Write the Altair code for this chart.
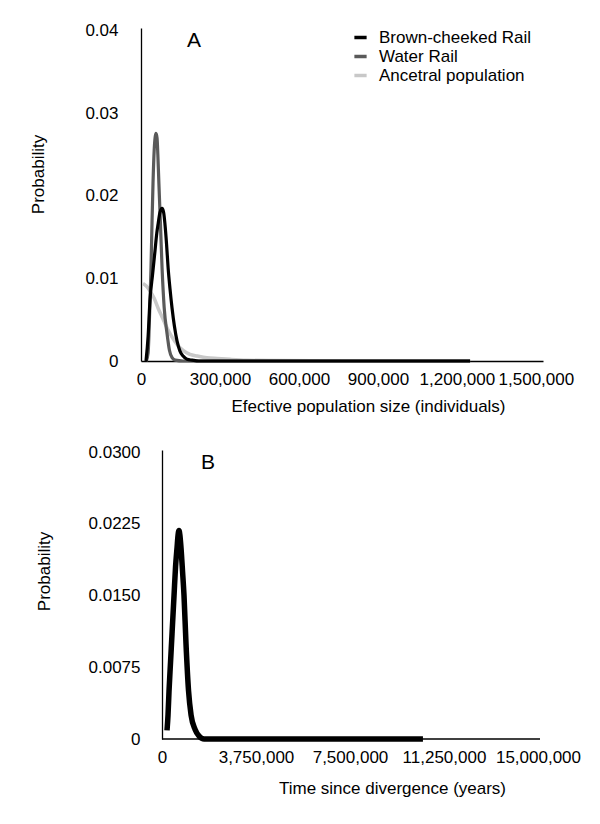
import altair as alt
import pandas as pd

FONT = "Liberation Sans"

# ---------------- Panel A data (effective population size) ----------------
series_names = ["Brown-cheeked Rail", "Water Rail", "Ancetral population"]
series_colors = ["#000000", "#5a5a5a", "#c8c8c8"]

brown_x = [19000, 27000, 34000, 44000, 53000, 60000, 65000, 72000, 80000, 86000,
           91000, 97000, 103000, 110000, 118000, 127000, 137000, 148000, 160000,
           175000, 194000, 220000, 400000, 800000, 1250000]
brown_y = [0, 0.0030, 0.0073, 0.0105, 0.0133, 0.0155, 0.0166, 0.0180, 0.0185, 0.0180,
           0.0166, 0.0142, 0.0113, 0.0088, 0.0064, 0.0042, 0.0024, 0.0012, 0.0006,
           0.0002, 0.0001, 0, 0, 0, 0]

water_x = [20000, 27000, 33000, 38000, 42000, 45600, 50000, 54000, 57000, 61000,
           64000, 68000, 74000, 80000, 88000, 99000, 108000, 118000, 130000, 160000,
           400000, 800000, 1250000]
water_y = [0, 0.0010, 0.0060, 0.0113, 0.0170, 0.0215, 0.0255, 0.0272, 0.0276, 0.0270,
           0.0250, 0.0215, 0.0165, 0.0113, 0.0065, 0.0033, 0.0013, 0.0004, 0.0001, 0,
           0, 0, 0]

anc_x = [7600, 20000, 34000, 50000, 65000, 82000, 99000, 118000, 137000, 160000,
         186000, 215000, 250000, 290000, 338000, 400000, 500000, 800000, 1250000]
anc_y = [0.0094, 0.0091, 0.0085, 0.0076, 0.0064, 0.0052, 0.0040, 0.0029, 0.0020, 0.0013,
         0.0008, 0.0006, 0.0004, 0.0003, 0.0002, 0.0001, 0.00005, 0, 0]

a_xticks = [0, 300000, 600000, 900000, 1200000, 1500000]
a_yticks = [0, 0.01, 0.02, 0.03, 0.04]

# ---------------- Panel B data (time since divergence) ----------------
div_x = [200000, 240000, 280000, 340000, 400000, 480000, 540000, 600000, 640000,
         678000, 715000, 758000, 820000, 878000, 957000, 1060000, 1160000, 1320000,
         1480000, 1680000, 3000000, 6000000, 10410000]
div_y = [0.0009, 0.0025, 0.0050, 0.0080, 0.0110, 0.0150, 0.0180, 0.0200, 0.0213,
         0.0218, 0.0213, 0.0200, 0.0175, 0.0150, 0.0100, 0.0050, 0.0025, 0.0010,
         0.0003, 0, 0, 0, 0]

b_xticks = [0, 3750000, 7500000, 11250000, 15000000]
b_yticks = [0, 0.0075, 0.015, 0.0225, 0.03]
b_axis_end = 15080000

# ---------------- build tables ----------------
rows = []
for name, xs, ys in [("Ancetral population", anc_x, anc_y),
                     ("Water Rail", water_x, water_y),
                     ("Brown-cheeked Rail", brown_x, brown_y)]:
    for xv, yv in zip(xs, ys):
        rows.append({"series": name, "size": xv, "prob": yv})
df_a = pd.DataFrame(rows)
df_b = pd.DataFrame({"time": div_x, "prob": div_y})

color = alt.Color(
    "series:N",
    scale=alt.Scale(domain=series_names, range=series_colors),
    legend=alt.Legend(
        title=None, orient="none", legendX=211, legendY=1,
        symbolType="stroke", symbolStrokeWidth=3.5, symbolSize=150,
        labelFontSize=17, labelFont=FONT, labelColor="#000",
        rowPadding=1, labelOffset=10, padding=0,
    ),
)

xa = alt.X(
    "size:Q",
    scale=alt.Scale(domain=[0, 1527000], nice=False, zero=False),
    axis=alt.Axis(
        values=a_xticks, format=",d", ticks=False, grid=False,
        labelPadding=10, labelOverlap=False, labelFlush=False, labelBound=False,
        title="Efective population size (individuals)",
        titleX=227, titleY=45, titleBaseline="middle", titleAlign="center",
    ),
)
ya = alt.Y(
    "prob:Q",
    scale=alt.Scale(domain=[0, 0.04036], nice=False),
    axis=alt.Axis(
        values=a_yticks, format=".2~f", ticks=False, grid=False,
        labelPadding=23, title="Probability",
        titleX=-103, titleY=146, titleBaseline="middle", titleAlign="center",
    ),
)

layers_a = []
for name, width in [("Ancetral population", 3.5), ("Water Rail", 3.2), ("Brown-cheeked Rail", 3.2)]:
    layers_a.append(
        alt.Chart(df_a).transform_filter(alt.datum.series == name)
        .mark_line(strokeWidth=width, interpolate="monotone")
        .encode(x=xa, y=ya, color=color)
    )
label_a = alt.Chart(pd.DataFrame({"panel": ["A"]})).mark_text(
    fontSize=21, font=FONT, color="#000", align="center", baseline="middle"
).encode(text="panel:N", x=alt.datum(201000), y=alt.datum(0.0388))

panel_a = alt.layer(*layers_a, label_a).properties(width=402, height=333)

# Panel B: the plot area starts at the same left edge as panel A, while the
# y axis is shifted right (negative offset) so that time 0 sits where it does
# in the reference.
b_px_per_unit = 376 / 15000000
b_shift_px = 21
scale_bx = alt.Scale(domain=[-b_shift_px / b_px_per_unit, b_axis_end], nice=False, zero=False)
axis_bx = alt.Axis(
    values=b_xticks, format=",d", ticks=False, grid=False, domain=False,
    labelPadding=10, labelOverlap=False, labelFlush=False, labelBound=False,
    titleX=230 + b_shift_px, titleY=49, titleBaseline="middle", titleAlign="center",
)
scale_by = alt.Scale(domain=[0, 0.03021], nice=False)
axis_by = alt.Axis(
    values=b_yticks, ticks=False, grid=False, offset=-b_shift_px,
    labelExpr="datum.value == 0 ? '0' : format(datum.value, '.4f')",
    labelPadding=22,
    titleX=-118, titleY=121, titleBaseline="middle", titleAlign="center",
)
b_xtitle = "Time since divergence (years)"
b_ytitle = "Probability"

base_b = alt.Chart(pd.DataFrame({"start": [0], "end": [b_axis_end], "zero": [0]})).mark_rule(
    color="#000", strokeWidth=1.3
).encode(
    x=alt.X("start:Q", scale=scale_bx, axis=axis_bx, title=b_xtitle),
    x2="end:Q",
    y=alt.Y("zero:Q", scale=scale_by, axis=axis_by, title=b_ytitle),
)
line_b = alt.Chart(df_b).mark_line(
    strokeWidth=5.5, color="#000", interpolate="monotone"
).encode(
    x=alt.X("time:Q", scale=scale_bx, axis=axis_bx, title=b_xtitle),
    y=alt.Y("prob:Q", scale=scale_by, axis=axis_by, title=b_ytitle),
)
label_b = alt.Chart(pd.DataFrame({"panel": ["B"]})).mark_text(
    fontSize=21, font=FONT, color="#000", align="center", baseline="middle"
).encode(text="panel:N", x=alt.datum(1835000), y=alt.datum(0.0289))

panel_b = alt.layer(base_b, line_b, label_b).properties(width=376 + b_shift_px + 2, height=289)

chart = alt.vconcat(panel_a, panel_b, spacing=29).properties(
    padding={"left": 21, "top": 13, "right": 5, "bottom": 5}
).configure_view(stroke=None).configure_axis(
    labelFont=FONT, titleFont=FONT, labelFontSize=17, titleFontSize=17,
    labelColor="#000", titleColor="#000", titleFontWeight="normal",
    domainColor="#000", domainWidth=1.3,
)

chart.save("out.html", embed_options={"renderer": "svg", "actions": False})
